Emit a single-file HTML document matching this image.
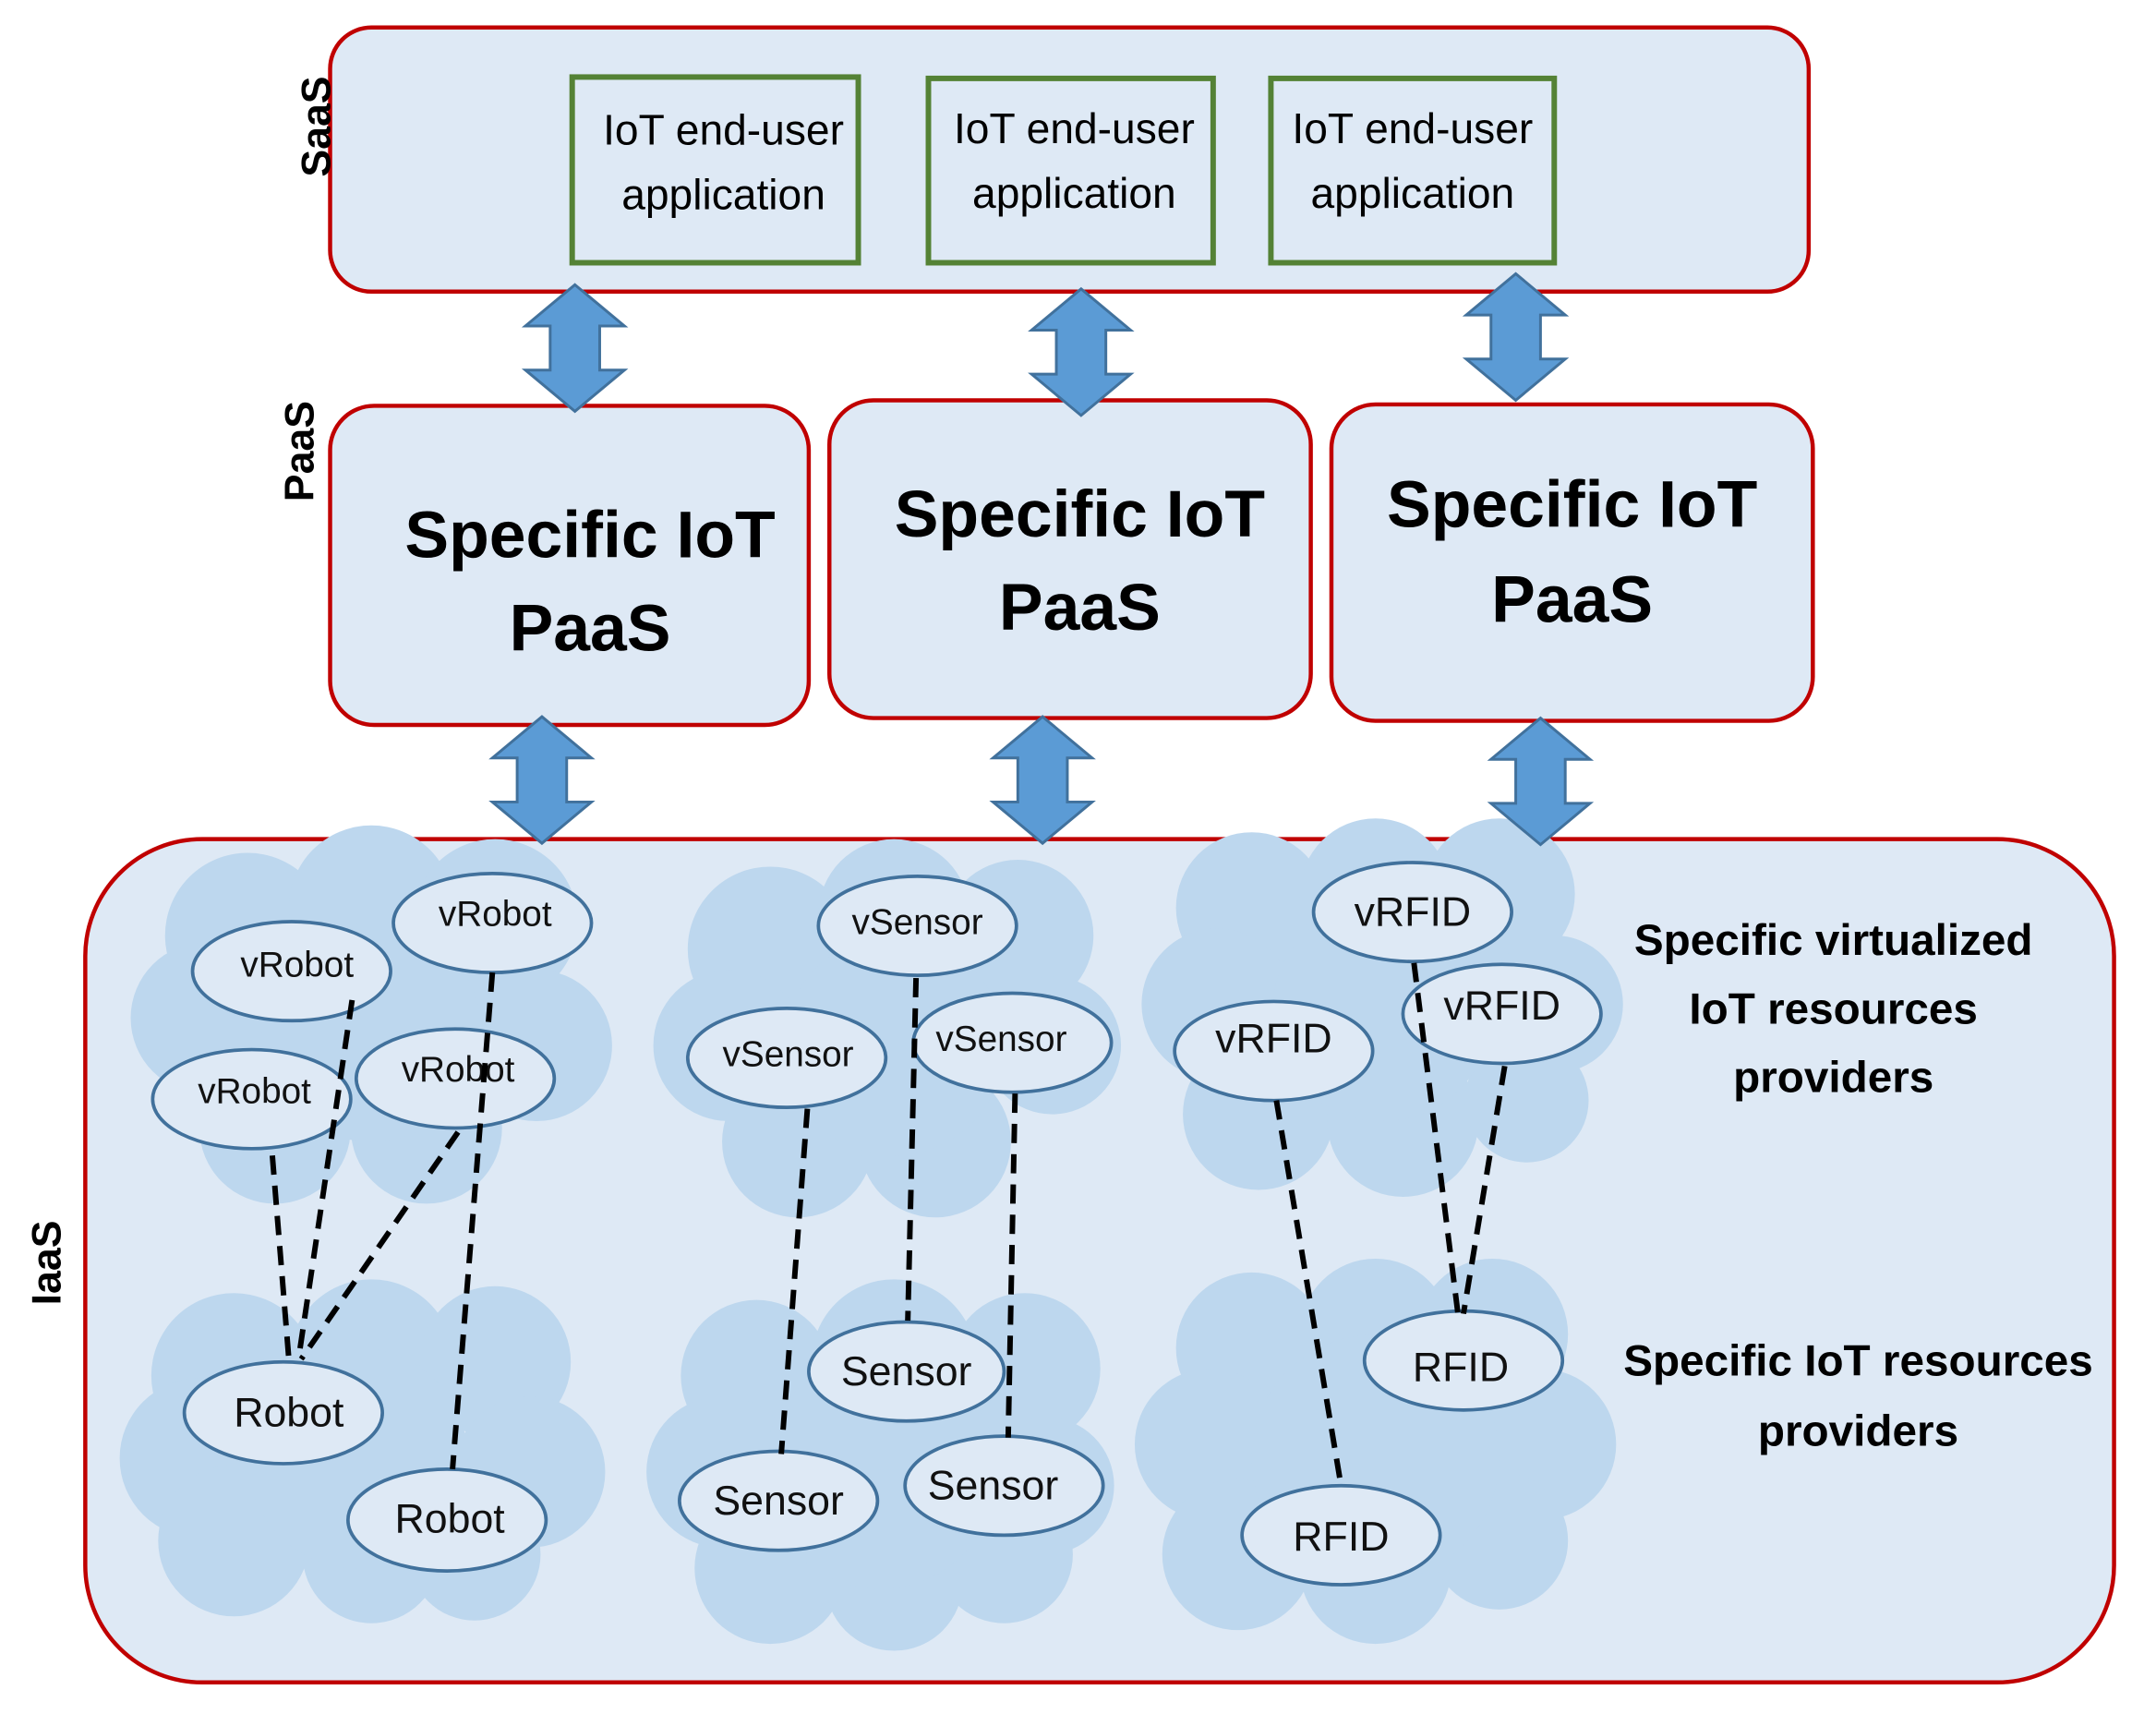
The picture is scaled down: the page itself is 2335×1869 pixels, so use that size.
<!DOCTYPE html>
<html><head><meta charset="utf-8"><style>html,body{margin:0;padding:0;background:#fff}svg{display:block}</style></head>
<body>
<svg width="2335" height="1869" viewBox="0 0 1567.5 1254.7" preserveAspectRatio="none" xmlns="http://www.w3.org/2000/svg" font-family="'Liberation Sans', 'DejaVu Sans', sans-serif">
<defs>
<g id="arr">
<polygon points="0,-46 36,-16 18,-16 18,16 36,16 0,46 -36,16 -18,16 -18,-16 -36,-16" fill="#5b9bd5" stroke="#41719c" stroke-width="2"/>
</g>
</defs>
<rect x="240" y="20" width="1075" height="192" rx="30" fill="#dee9f5" stroke="#c00000" stroke-width="3"/>
<g fill="#dee9f5" stroke="#548235" stroke-width="4">
<rect x="416" y="56" width="208" height="135"/>
<rect x="675" y="57" width="207" height="134"/>
<rect x="924" y="57" width="206" height="134"/>
</g>
<g font-size="31" text-anchor="middle" fill="#000">
<text x="526" y="105">IoT end-user</text><text x="526" y="152">application</text>
<text x="781" y="104">IoT end-user</text><text x="781" y="151">application</text>
<text x="1027" y="104">IoT end-user</text><text x="1027" y="151">application</text>
</g>
<g font-size="30" font-weight="bold" text-anchor="middle">
<text transform="translate(240,92) rotate(-90)">SaaS</text>
<text transform="translate(228,328) rotate(-90)">PaaS</text>
<text transform="translate(44,918) rotate(-90)">IaaS</text>
</g>
<g fill="#dee9f5" stroke="#c00000" stroke-width="3">
<rect x="240" y="295" width="348" height="232" rx="32"/>
<rect x="603" y="291" width="350" height="231" rx="32"/>
<rect x="968" y="294" width="350" height="230" rx="32"/>
</g>
<g font-size="48" font-weight="bold" text-anchor="middle">
<text x="429" y="405">Specific IoT</text><text x="429" y="473">PaaS</text>
<text x="785" y="390">Specific IoT</text><text x="785" y="458">PaaS</text>
<text x="1143" y="383">Specific IoT</text><text x="1143" y="452">PaaS</text>
</g>
<rect x="62" y="610" width="1475" height="613" rx="85" fill="#dee9f5" stroke="#c00000" stroke-width="3"/>
<g fill="#bdd7ee">
<g><circle cx="180" cy="680" r="60"/><circle cx="270" cy="660" r="60"/><circle cx="360" cy="670" r="60"/><circle cx="390" cy="760" r="55"/><circle cx="150" cy="740" r="55"/><circle cx="200" cy="820" r="55"/><circle cx="310" cy="820" r="55"/><circle cx="270" cy="750" r="80"/></g>
<g><circle cx="170" cy="1000" r="60"/><circle cx="270" cy="990" r="60"/><circle cx="360" cy="990" r="55"/><circle cx="385" cy="1070" r="55"/><circle cx="145" cy="1060" r="58"/><circle cx="170" cy="1120" r="55"/><circle cx="270" cy="1130" r="50"/><circle cx="345" cy="1130" r="48"/><circle cx="260" cy="1060" r="80"/></g>
<g><circle cx="560" cy="690" r="60"/><circle cx="650" cy="665" r="55"/><circle cx="740" cy="680" r="55"/><circle cx="765" cy="760" r="50"/><circle cx="530" cy="760" r="55"/><circle cx="580" cy="830" r="55"/><circle cx="680" cy="830" r="55"/><circle cx="650" cy="760" r="80"/></g>
<g><circle cx="550" cy="1000" r="55"/><circle cx="650" cy="990" r="60"/><circle cx="745" cy="995" r="55"/><circle cx="760" cy="1080" r="50"/><circle cx="525" cy="1070" r="55"/><circle cx="560" cy="1140" r="55"/><circle cx="650" cy="1150" r="50"/><circle cx="730" cy="1130" r="50"/><circle cx="640" cy="1070" r="85"/></g>
<g><circle cx="910" cy="660" r="55"/><circle cx="1000" cy="650" r="55"/><circle cx="1090" cy="650" r="55"/><circle cx="1130" cy="730" r="50"/><circle cx="885" cy="730" r="55"/><circle cx="915" cy="810" r="55"/><circle cx="1020" cy="815" r="55"/><circle cx="1110" cy="800" r="45"/><circle cx="1005" cy="735" r="80"/></g>
<g><circle cx="910" cy="980" r="55"/><circle cx="1000" cy="970" r="55"/><circle cx="1085" cy="970" r="55"/><circle cx="1120" cy="1050" r="55"/><circle cx="880" cy="1050" r="55"/><circle cx="900" cy="1130" r="55"/><circle cx="1000" cy="1140" r="55"/><circle cx="1090" cy="1120" r="50"/><circle cx="1000" cy="1060" r="90"/></g>
</g>
<use href="#arr" x="418" y="253"/>
<use href="#arr" x="786" y="256"/>
<use href="#arr" x="1102" y="245"/>
<use href="#arr" x="394" y="567"/>
<use href="#arr" x="758" y="567"/>
<use href="#arr" x="1120" y="568"/>
<g fill="#dee9f5" stroke="#41719c" stroke-width="2.5">
<ellipse cx="212" cy="706" rx="72" ry="36"/><ellipse cx="358" cy="671" rx="72" ry="36"/>
<ellipse cx="183" cy="799" rx="72" ry="36"/><ellipse cx="331" cy="784" rx="72" ry="36"/>
<ellipse cx="206" cy="1027" rx="72" ry="37"/><ellipse cx="325" cy="1105" rx="72" ry="37"/>
<ellipse cx="667" cy="673" rx="72" ry="36"/><ellipse cx="572" cy="769" rx="72" ry="36"/><ellipse cx="736" cy="758" rx="72" ry="36"/>
<ellipse cx="659" cy="997" rx="71" ry="36"/><ellipse cx="566" cy="1091" rx="72" ry="36"/><ellipse cx="730" cy="1080" rx="72" ry="36"/>
<ellipse cx="1027" cy="663" rx="72" ry="36"/><ellipse cx="926" cy="764" rx="72" ry="36"/><ellipse cx="1092" cy="737" rx="72" ry="36"/>
<ellipse cx="1064" cy="989" rx="72" ry="36"/><ellipse cx="975" cy="1116" rx="72" ry="36"/>
</g>
<g font-size="26" text-anchor="middle" fill="#111">
<text x="216" y="710">vRobot</text><text x="360" y="673">vRobot</text>
<text x="185" y="802">vRobot</text><text x="333" y="786">vRobot</text>
<text x="667" y="679">vSensor</text><text x="573" y="775">vSensor</text><text x="728" y="764">vSensor</text>
</g>
<g font-size="30" text-anchor="middle" fill="#111">
<text x="210" y="1037">Robot</text><text x="327" y="1114">Robot</text>
<text x="659" y="1007">Sensor</text><text x="566" y="1101">Sensor</text><text x="722" y="1090">Sensor</text>
<text x="1027" y="673">vRFID</text><text x="926" y="765">vRFID</text><text x="1092" y="741">vRFID</text>
<text x="1062" y="1004">RFID</text><text x="975" y="1127">RFID</text>
</g>
<g stroke="#000" stroke-width="4" stroke-dasharray="14,8" fill="none">
<line x1="256" y1="727" x2="217" y2="988"/><line x1="198" y1="840" x2="210" y2="988"/>
<line x1="333" y1="823" x2="219" y2="988"/><line x1="358" y1="707" x2="329" y2="1068"/>
<line x1="587" y1="806" x2="568" y2="1057"/><line x1="666" y1="711" x2="660" y2="960"/><line x1="738" y1="795" x2="733" y2="1045"/>
<line x1="928" y1="800" x2="975" y2="1080"/><line x1="1028" y1="700" x2="1060" y2="955"/><line x1="1094" y1="775" x2="1064" y2="955"/>
</g>
<g font-size="32" font-weight="bold" text-anchor="middle">
<text x="1333" y="694">Specific virtualized</text><text x="1333" y="744">IoT resources</text><text x="1333" y="794">providers</text>
<text x="1351" y="1000">Specific IoT resources</text><text x="1351" y="1051">providers</text>
</g>
</svg>
</body></html>
